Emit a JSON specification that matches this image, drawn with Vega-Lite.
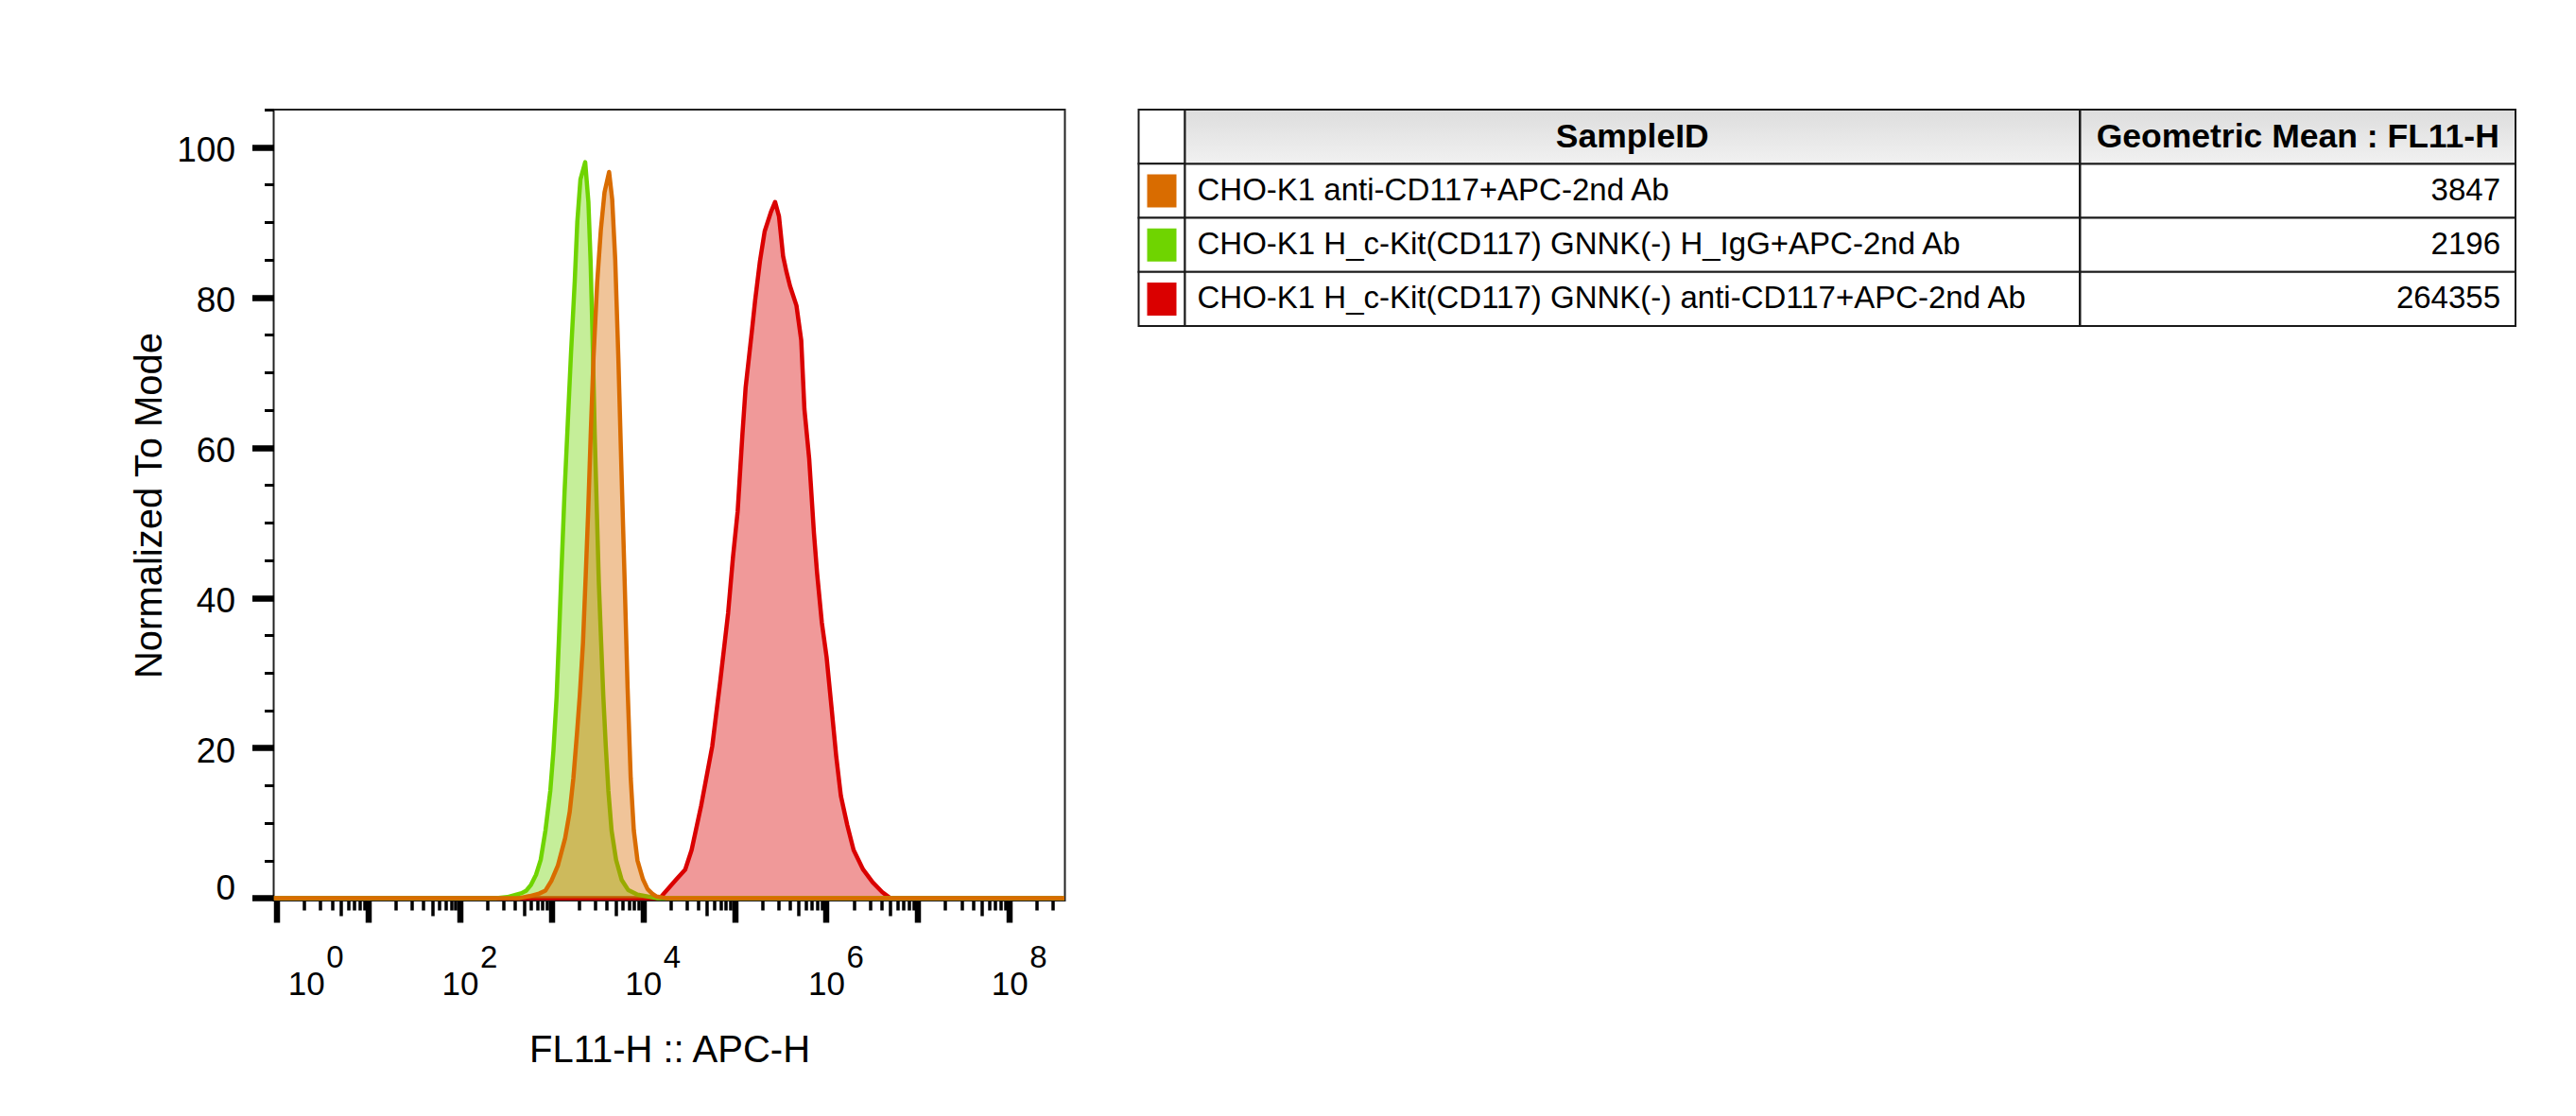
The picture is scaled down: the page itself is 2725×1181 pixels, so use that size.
{
  "$schema": "https://vega.github.io/schema/vega-lite/v6.json",
  "padding": {"left": 137.5, "top": 100, "right": 5, "bottom": 5},
  "background": "white",
  "spacing": 76,
  "config": {
    "font": "Liberation Sans",
    "axis": {"labelColor": "#000", "titleColor": "#000", "tickColor": "#000", "labelFont": "Liberation Sans", "titleFont": "Liberation Sans", "grid": false, "domain": false, "tickCap": "butt"},
    "text": {"font": "Liberation Sans", "color": "#000"}
  },
  "datasets": {
    "hist": [
      {"sample": "CHO-K1 H_c-Kit(CD117) GNNK(-) anti-CD117+APC-2nd Ab", "x": 0.93, "count": 0},
      {"sample": "CHO-K1 H_c-Kit(CD117) GNNK(-) anti-CD117+APC-2nd Ab", "x": 15311, "count": 0},
      {"sample": "CHO-K1 H_c-Kit(CD117) GNNK(-) anti-CD117+APC-2nd Ab", "x": 22803, "count": 2.4},
      {"sample": "CHO-K1 H_c-Kit(CD117) GNNK(-) anti-CD117+APC-2nd Ab", "x": 28907, "count": 3.8},
      {"sample": "CHO-K1 H_c-Kit(CD117) GNNK(-) anti-CD117+APC-2nd Ab", "x": 33963, "count": 6.4},
      {"sample": "CHO-K1 H_c-Kit(CD117) GNNK(-) anti-CD117+APC-2nd Ab", "x": 43152, "count": 12.3},
      {"sample": "CHO-K1 H_c-Kit(CD117) GNNK(-) anti-CD117+APC-2nd Ab", "x": 57016, "count": 20.2},
      {"sample": "CHO-K1 H_c-Kit(CD117) GNNK(-) anti-CD117+APC-2nd Ab", "x": 69663, "count": 28.8},
      {"sample": "CHO-K1 H_c-Kit(CD117) GNNK(-) anti-CD117+APC-2nd Ab", "x": 85114, "count": 38},
      {"sample": "CHO-K1 H_c-Kit(CD117) GNNK(-) anti-CD117+APC-2nd Ab", "x": 95940, "count": 45.3},
      {"sample": "CHO-K1 H_c-Kit(CD117) GNNK(-) anti-CD117+APC-2nd Ab", "x": 108143, "count": 51.5},
      {"sample": "CHO-K1 H_c-Kit(CD117) GNNK(-) anti-CD117+APC-2nd Ab", "x": 121899, "count": 61.8},
      {"sample": "CHO-K1 H_c-Kit(CD117) GNNK(-) anti-CD117+APC-2nd Ab", "x": 132129, "count": 68},
      {"sample": "CHO-K1 H_c-Kit(CD117) GNNK(-) anti-CD117+APC-2nd Ab", "x": 154882, "count": 75.6},
      {"sample": "CHO-K1 H_c-Kit(CD117) GNNK(-) anti-CD117+APC-2nd Ab", "x": 167880, "count": 79.6},
      {"sample": "CHO-K1 H_c-Kit(CD117) GNNK(-) anti-CD117+APC-2nd Ab", "x": 189234, "count": 84.8},
      {"sample": "CHO-K1 H_c-Kit(CD117) GNNK(-) anti-CD117+APC-2nd Ab", "x": 213304, "count": 88.8},
      {"sample": "CHO-K1 H_c-Kit(CD117) GNNK(-) anti-CD117+APC-2nd Ab", "x": 250035, "count": 91.4},
      {"sample": "CHO-K1 H_c-Kit(CD117) GNNK(-) anti-CD117+APC-2nd Ab", "x": 277332, "count": 92.7},
      {"sample": "CHO-K1 H_c-Kit(CD117) GNNK(-) anti-CD117+APC-2nd Ab", "x": 305492, "count": 90.8},
      {"sample": "CHO-K1 H_c-Kit(CD117) GNNK(-) anti-CD117+APC-2nd Ab", "x": 338844, "count": 85.5},
      {"sample": "CHO-K1 H_c-Kit(CD117) GNNK(-) anti-CD117+APC-2nd Ab", "x": 367282, "count": 83.5},
      {"sample": "CHO-K1 H_c-Kit(CD117) GNNK(-) anti-CD117+APC-2nd Ab", "x": 403645, "count": 81.5},
      {"sample": "CHO-K1 H_c-Kit(CD117) GNNK(-) anti-CD117+APC-2nd Ab", "x": 474242, "count": 78.9},
      {"sample": "CHO-K1 H_c-Kit(CD117) GNNK(-) anti-CD117+APC-2nd Ab", "x": 534564, "count": 74.3},
      {"sample": "CHO-K1 H_c-Kit(CD117) GNNK(-) anti-CD117+APC-2nd Ab", "x": 579429, "count": 65.1},
      {"sample": "CHO-K1 H_c-Kit(CD117) GNNK(-) anti-CD117+APC-2nd Ab", "x": 653131, "count": 58.5},
      {"sample": "CHO-K1 H_c-Kit(CD117) GNNK(-) anti-CD117+APC-2nd Ab", "x": 736207, "count": 48.6},
      {"sample": "CHO-K1 H_c-Kit(CD117) GNNK(-) anti-CD117+APC-2nd Ab", "x": 796159, "count": 43.3},
      {"sample": "CHO-K1 H_c-Kit(CD117) GNNK(-) anti-CD117+APC-2nd Ab", "x": 897428, "count": 36.7},
      {"sample": "CHO-K1 H_c-Kit(CD117) GNNK(-) anti-CD117+APC-2nd Ab", "x": 1011579, "count": 32.1},
      {"sample": "CHO-K1 H_c-Kit(CD117) GNNK(-) anti-CD117+APC-2nd Ab", "x": 1142878, "count": 25.5},
      {"sample": "CHO-K1 H_c-Kit(CD117) GNNK(-) anti-CD117+APC-2nd Ab", "x": 1288250, "count": 18.9},
      {"sample": "CHO-K1 H_c-Kit(CD117) GNNK(-) anti-CD117+APC-2nd Ab", "x": 1448772, "count": 13.6},
      {"sample": "CHO-K1 H_c-Kit(CD117) GNNK(-) anti-CD117+APC-2nd Ab", "x": 1702159, "count": 9.7},
      {"sample": "CHO-K1 H_c-Kit(CD117) GNNK(-) anti-CD117+APC-2nd Ab", "x": 1995262, "count": 6.4},
      {"sample": "CHO-K1 H_c-Kit(CD117) GNNK(-) anti-CD117+APC-2nd Ab", "x": 2535129, "count": 3.8},
      {"sample": "CHO-K1 H_c-Kit(CD117) GNNK(-) anti-CD117+APC-2nd Ab", "x": 3221069, "count": 2.1},
      {"sample": "CHO-K1 H_c-Kit(CD117) GNNK(-) anti-CD117+APC-2nd Ab", "x": 4092607, "count": 0.8},
      {"sample": "CHO-K1 H_c-Kit(CD117) GNNK(-) anti-CD117+APC-2nd Ab", "x": 5000345, "count": 0},
      {"sample": "CHO-K1 H_c-Kit(CD117) GNNK(-) anti-CD117+APC-2nd Ab", "x": 400000000, "count": 0},
      {"sample": "CHO-K1 H_c-Kit(CD117) GNNK(-) H_IgG+APC-2nd Ab", "x": 0.93, "count": 0},
      {"sample": "CHO-K1 H_c-Kit(CD117) GNNK(-) H_IgG+APC-2nd Ab", "x": 250, "count": 0},
      {"sample": "CHO-K1 H_c-Kit(CD117) GNNK(-) H_IgG+APC-2nd Ab", "x": 330, "count": 0.13},
      {"sample": "CHO-K1 H_c-Kit(CD117) GNNK(-) H_IgG+APC-2nd Ab", "x": 473, "count": 0.66},
      {"sample": "CHO-K1 H_c-Kit(CD117) GNNK(-) H_IgG+APC-2nd Ab", "x": 533, "count": 1.0},
      {"sample": "CHO-K1 H_c-Kit(CD117) GNNK(-) H_IgG+APC-2nd Ab", "x": 601, "count": 1.8},
      {"sample": "CHO-K1 H_c-Kit(CD117) GNNK(-) H_IgG+APC-2nd Ab", "x": 679, "count": 3.1},
      {"sample": "CHO-K1 H_c-Kit(CD117) GNNK(-) H_IgG+APC-2nd Ab", "x": 764, "count": 5.1},
      {"sample": "CHO-K1 H_c-Kit(CD117) GNNK(-) H_IgG+APC-2nd Ab", "x": 861, "count": 9.0},
      {"sample": "CHO-K1 H_c-Kit(CD117) GNNK(-) H_IgG+APC-2nd Ab", "x": 973, "count": 14.3},
      {"sample": "CHO-K1 H_c-Kit(CD117) GNNK(-) H_IgG+APC-2nd Ab", "x": 1052, "count": 19.6},
      {"sample": "CHO-K1 H_c-Kit(CD117) GNNK(-) H_IgG+APC-2nd Ab", "x": 1140, "count": 26.8},
      {"sample": "CHO-K1 H_c-Kit(CD117) GNNK(-) H_IgG+APC-2nd Ab", "x": 1216, "count": 35.4},
      {"sample": "CHO-K1 H_c-Kit(CD117) GNNK(-) H_IgG+APC-2nd Ab", "x": 1285, "count": 43.3},
      {"sample": "CHO-K1 H_c-Kit(CD117) GNNK(-) H_IgG+APC-2nd Ab", "x": 1390, "count": 53.9},
      {"sample": "CHO-K1 H_c-Kit(CD117) GNNK(-) H_IgG+APC-2nd Ab", "x": 1507, "count": 63.1},
      {"sample": "CHO-K1 H_c-Kit(CD117) GNNK(-) H_IgG+APC-2nd Ab", "x": 1633, "count": 72.3},
      {"sample": "CHO-K1 H_c-Kit(CD117) GNNK(-) H_IgG+APC-2nd Ab", "x": 1799, "count": 82.2},
      {"sample": "CHO-K1 H_c-Kit(CD117) GNNK(-) H_IgG+APC-2nd Ab", "x": 1919, "count": 90.1},
      {"sample": "CHO-K1 H_c-Kit(CD117) GNNK(-) H_IgG+APC-2nd Ab", "x": 2075, "count": 95.7},
      {"sample": "CHO-K1 H_c-Kit(CD117) GNNK(-) H_IgG+APC-2nd Ab", "x": 2339, "count": 98.0},
      {"sample": "CHO-K1 H_c-Kit(CD117) GNNK(-) H_IgG+APC-2nd Ab", "x": 2535, "count": 92.7},
      {"sample": "CHO-K1 H_c-Kit(CD117) GNNK(-) H_IgG+APC-2nd Ab", "x": 2679, "count": 84.8},
      {"sample": "CHO-K1 H_c-Kit(CD117) GNNK(-) H_IgG+APC-2nd Ab", "x": 2812, "count": 75.0},
      {"sample": "CHO-K1 H_c-Kit(CD117) GNNK(-) H_IgG+APC-2nd Ab", "x": 2972, "count": 61.8},
      {"sample": "CHO-K1 H_c-Kit(CD117) GNNK(-) H_IgG+APC-2nd Ab", "x": 3141, "count": 51.2},
      {"sample": "CHO-K1 H_c-Kit(CD117) GNNK(-) H_IgG+APC-2nd Ab", "x": 3296, "count": 42.0},
      {"sample": "CHO-K1 H_c-Kit(CD117) GNNK(-) H_IgG+APC-2nd Ab", "x": 3491, "count": 34.1},
      {"sample": "CHO-K1 H_c-Kit(CD117) GNNK(-) H_IgG+APC-2nd Ab", "x": 3690, "count": 26.8},
      {"sample": "CHO-K1 H_c-Kit(CD117) GNNK(-) H_IgG+APC-2nd Ab", "x": 3926, "count": 20.2},
      {"sample": "CHO-K1 H_c-Kit(CD117) GNNK(-) H_IgG+APC-2nd Ab", "x": 4188, "count": 14.3},
      {"sample": "CHO-K1 H_c-Kit(CD117) GNNK(-) H_IgG+APC-2nd Ab", "x": 4539, "count": 9.0},
      {"sample": "CHO-K1 H_c-Kit(CD117) GNNK(-) H_IgG+APC-2nd Ab", "x": 5082, "count": 5.1},
      {"sample": "CHO-K1 H_c-Kit(CD117) GNNK(-) H_IgG+APC-2nd Ab", "x": 5861, "count": 2.4},
      {"sample": "CHO-K1 H_c-Kit(CD117) GNNK(-) H_IgG+APC-2nd Ab", "x": 6871, "count": 1.1},
      {"sample": "CHO-K1 H_c-Kit(CD117) GNNK(-) H_IgG+APC-2nd Ab", "x": 8730, "count": 0.46},
      {"sample": "CHO-K1 H_c-Kit(CD117) GNNK(-) H_IgG+APC-2nd Ab", "x": 14125, "count": 0},
      {"sample": "CHO-K1 H_c-Kit(CD117) GNNK(-) H_IgG+APC-2nd Ab", "x": 400000000, "count": 0},
      {"sample": "CHO-K1 anti-CD117+APC-2nd Ab", "x": 0.93, "count": 0},
      {"sample": "CHO-K1 anti-CD117+APC-2nd Ab", "x": 450, "count": 0},
      {"sample": "CHO-K1 anti-CD117+APC-2nd Ab", "x": 578, "count": 0.26},
      {"sample": "CHO-K1 anti-CD117+APC-2nd Ab", "x": 735, "count": 0.6},
      {"sample": "CHO-K1 anti-CD117+APC-2nd Ab", "x": 861, "count": 1.0},
      {"sample": "CHO-K1 anti-CD117+APC-2nd Ab", "x": 1000, "count": 2.3},
      {"sample": "CHO-K1 anti-CD117+APC-2nd Ab", "x": 1175, "count": 4.3},
      {"sample": "CHO-K1 anti-CD117+APC-2nd Ab", "x": 1413, "count": 8},
      {"sample": "CHO-K1 anti-CD117+APC-2nd Ab", "x": 1585, "count": 11.5},
      {"sample": "CHO-K1 anti-CD117+APC-2nd Ab", "x": 1738, "count": 16},
      {"sample": "CHO-K1 anti-CD117+APC-2nd Ab", "x": 1905, "count": 22},
      {"sample": "CHO-K1 anti-CD117+APC-2nd Ab", "x": 2042, "count": 27},
      {"sample": "CHO-K1 anti-CD117+APC-2nd Ab", "x": 2213, "count": 34},
      {"sample": "CHO-K1 anti-CD117+APC-2nd Ab", "x": 2371, "count": 43},
      {"sample": "CHO-K1 anti-CD117+APC-2nd Ab", "x": 2512, "count": 51},
      {"sample": "CHO-K1 anti-CD117+APC-2nd Ab", "x": 2692, "count": 62},
      {"sample": "CHO-K1 anti-CD117+APC-2nd Ab", "x": 2884, "count": 72},
      {"sample": "CHO-K1 anti-CD117+APC-2nd Ab", "x": 3162, "count": 82},
      {"sample": "CHO-K1 anti-CD117+APC-2nd Ab", "x": 3467, "count": 89},
      {"sample": "CHO-K1 anti-CD117+APC-2nd Ab", "x": 3802, "count": 94},
      {"sample": "CHO-K1 anti-CD117+APC-2nd Ab", "x": 4266, "count": 96.7},
      {"sample": "CHO-K1 anti-CD117+APC-2nd Ab", "x": 4613, "count": 93},
      {"sample": "CHO-K1 anti-CD117+APC-2nd Ab", "x": 4977, "count": 85},
      {"sample": "CHO-K1 anti-CD117+APC-2nd Ab", "x": 5383, "count": 72},
      {"sample": "CHO-K1 anti-CD117+APC-2nd Ab", "x": 5821, "count": 57},
      {"sample": "CHO-K1 anti-CD117+APC-2nd Ab", "x": 6281, "count": 43},
      {"sample": "CHO-K1 anti-CD117+APC-2nd Ab", "x": 6792, "count": 28},
      {"sample": "CHO-K1 anti-CD117+APC-2nd Ab", "x": 7345, "count": 16},
      {"sample": "CHO-K1 anti-CD117+APC-2nd Ab", "x": 7943, "count": 9},
      {"sample": "CHO-K1 anti-CD117+APC-2nd Ab", "x": 8710, "count": 5},
      {"sample": "CHO-K1 anti-CD117+APC-2nd Ab", "x": 10000, "count": 2.5},
      {"sample": "CHO-K1 anti-CD117+APC-2nd Ab", "x": 11220, "count": 1.2},
      {"sample": "CHO-K1 anti-CD117+APC-2nd Ab", "x": 12589, "count": 0.6},
      {"sample": "CHO-K1 anti-CD117+APC-2nd Ab", "x": 14125, "count": 0.2},
      {"sample": "CHO-K1 anti-CD117+APC-2nd Ab", "x": 17783, "count": 0},
      {"sample": "CHO-K1 anti-CD117+APC-2nd Ab", "x": 400000000, "count": 0}
    ],
    "table": [
      {"label": "SampleID", "value": "Geometric Mean : FL11-H", "part": "header"},
      {"label": "CHO-K1 anti-CD117+APC-2nd Ab", "value": "3847", "part": "body"},
      {"label": "CHO-K1 H_c-Kit(CD117) GNNK(-) H_IgG+APC-2nd Ab", "value": "2196", "part": "body"},
      {"label": "CHO-K1 H_c-Kit(CD117) GNNK(-) anti-CD117+APC-2nd Ab", "value": "264355", "part": "body"}
    ]
  },
  "hconcat": [
    {
      "width": 837,
      "height": 837,
      "view": {"stroke": "#222", "strokeWidth": 2},
      "data": {"name": "hist"},
      "resolve": {"axis": {"x": "independent"}},
      "encoding": {
        "y": {
          "field": "count", "type": "quantitative", "stack": null,
          "scale": {"domain": [-0.33, 105], "nice": false, "zero": false},
          "axis": {
            "title": "Normalized To Mode", "titleFontSize": 40, "titleFontWeight": "normal", "titlePadding": 8,
            "values": [0,5,10,15,20,25,30,35,40,45,50,55,60,65,70,75,80,85,90,95,100,105],
            "tickSize": {"condition": {"test": "datum.value % 20 == 0", "value": 23}, "value": 10},
            "tickWidth": {"condition": {"test": "datum.value % 20 == 0", "value": 6.5}, "value": 3},
            "labelExpr": "datum.value % 20 == 0 ? datum.label : ''",
            "labelFontSize": 37, "labelBaseline": "middle",
            "labelOffset": {"condition": {"test": "datum.value == 0", "value": -10}, "value": 4},
            "labelPadding": 18,
            "labelOverlap": false, "labelFlush": false, "labelBound": false
          }
        },
        "color": {
          "field": "sample", "type": "nominal",
          "scale": {"domain": ["CHO-K1 anti-CD117+APC-2nd Ab", "CHO-K1 H_c-Kit(CD117) GNNK(-) H_IgG+APC-2nd Ab", "CHO-K1 H_c-Kit(CD117) GNNK(-) anti-CD117+APC-2nd Ab"], "range": ["#d96c00", "#6fd400", "#da0000"]},
          "legend": null
        }
      },
      "layer": [
        {"transform": [{"filter": {"field": "sample", "equal": "CHO-K1 H_c-Kit(CD117) GNNK(-) anti-CD117+APC-2nd Ab"}}],
         "mark": {"type": "area", "orient": "vertical", "fillOpacity": 0.4, "clip": true, "line": {"strokeWidth": 4.5, "strokeJoin": "round"}},
         "encoding": {
           "x": {
             "field": "x", "type": "quantitative",
             "scale": {"type": "log", "domain": [0.927, 405000000], "nice": false},
             "axis": {
               "orient": "bottom",
               "title": "FL11-H :: APC-H", "titleFontSize": 40, "titleFontWeight": "normal", "titlePadding": 31.5,
               "values": [1,2,3,4,5,6,7,8,9,10,20,30,40,50,60,70,80,90,100,200,300,400,500,600,700,800,900,1000,2000,3000,4000,5000,6000,7000,8000,9000,10000,20000,30000,40000,50000,60000,70000,80000,90000,100000,200000,300000,400000,500000,600000,700000,800000,900000,1000000,2000000,3000000,4000000,5000000,6000000,7000000,8000000,9000000,10000000,20000000,30000000,40000000,50000000,60000000,70000000,80000000,90000000,100000000,200000000,300000000],
               "tickSize": {"condition": [{"test": "abs(log(datum.value)/LN10 - round(log(datum.value)/LN10)) < 0.0001", "value": 23}, {"test": "abs(log(datum.value/5)/LN10 - round(log(datum.value/5)/LN10)) < 0.0001", "value": 16}], "value": 10},
               "tickWidth": {"condition": {"test": "abs(log(datum.value)/LN10 - round(log(datum.value)/LN10)) < 0.0001", "value": 6.5}, "value": 3.5},
               "labelExpr": "(datum.value == 1 || datum.value == 100 || datum.value == 10000 || datum.value == 1000000 || datum.value == 100000000) ? '10' : ''",
               "labelAlign": "center", "labelBaseline": "top", "labelFontSize": 35,
               "labelOffset": {"condition": {"test": "datum.value == 1", "value": 31}, "value": 0},
               "labelPadding": 48.6,
               "labelOverlap": false, "labelFlush": false, "labelBound": false
             }
           }
         }},
        {"transform": [{"filter": {"field": "sample", "equal": "CHO-K1 H_c-Kit(CD117) GNNK(-) H_IgG+APC-2nd Ab"}}],
         "mark": {"type": "area", "orient": "vertical", "fillOpacity": 0.4, "clip": true, "line": {"strokeWidth": 4.5, "strokeJoin": "round"}},
         "encoding": {
           "x": {
             "field": "x", "type": "quantitative",
             "scale": {"type": "log", "domain": [0.927, 405000000], "nice": false},
             "axis": {
               "orient": "bottom", "title": null, "ticks": false, "tickSize": 0,
               "values": [1, 100, 10000, 1000000, 100000000],
               "labelExpr": "datum.value == 1 ? '0' : datum.value == 100 ? '2' : datum.value == 10000 ? '4' : datum.value == 1000000 ? '6' : '8'",
               "labelAlign": "left", "labelBaseline": "top", "labelFontSize": 33,
               "labelOffset": {"condition": {"test": "datum.value == 1", "value": 52}, "value": 21},
               "labelPadding": 44.5,
               "labelOverlap": false, "labelFlush": false, "labelBound": false
             }
           }
         }},
        {"transform": [{"filter": {"field": "sample", "equal": "CHO-K1 anti-CD117+APC-2nd Ab"}}],
         "mark": {"type": "area", "orient": "vertical", "fillOpacity": 0.4, "clip": true, "line": {"strokeWidth": 4.5, "strokeJoin": "round"}},
         "encoding": {
           "x": {
             "field": "x", "type": "quantitative",
             "scale": {"type": "log", "domain": [0.927, 405000000], "nice": false},
             "axis": null
           }
         }}
      ]
    },
    {
      "hconcat": [
        {
          "width": 49, "height": 229,
          "view": {"stroke": null},
          "data": {"name": "table"},
          "encoding": {
            "y": {"field": "label", "type": "nominal", "scale": {"type": "band", "domain": ["SampleID", "CHO-K1 anti-CD117+APC-2nd Ab", "CHO-K1 H_c-Kit(CD117) GNNK(-) H_IgG+APC-2nd Ab", "CHO-K1 H_c-Kit(CD117) GNNK(-) anti-CD117+APC-2nd Ab"], "paddingInner": 0, "paddingOuter": 0}, "axis": null}
          },
          "layer": [
            {"mark": {"type": "rect", "fill": "white", "stroke": "#1a1a1a", "strokeWidth": 2}},
            {"transform": [{"filter": "datum.part == 'body'"}],
             "mark": {"type": "point", "shape": "M-0.886,-1H0.886V1H-0.886Z", "size": 1225, "filled": true, "opacity": 1, "strokeWidth": 0},
             "encoding": {"color": {"field": "label", "type": "nominal", "scale": {"domain": ["CHO-K1 anti-CD117+APC-2nd Ab", "CHO-K1 H_c-Kit(CD117) GNNK(-) H_IgG+APC-2nd Ab", "CHO-K1 H_c-Kit(CD117) GNNK(-) anti-CD117+APC-2nd Ab"], "range": ["#d96c00", "#6fd400", "#da0000"]}, "legend": null}}}
          ]
        },
        {
          "width": 946.5, "height": 229,
          "view": {"stroke": null},
          "data": {"name": "table"},
          "encoding": {
            "y": {"field": "label", "type": "nominal", "scale": {"type": "band", "domain": ["SampleID", "CHO-K1 anti-CD117+APC-2nd Ab", "CHO-K1 H_c-Kit(CD117) GNNK(-) H_IgG+APC-2nd Ab", "CHO-K1 H_c-Kit(CD117) GNNK(-) anti-CD117+APC-2nd Ab"], "paddingInner": 0, "paddingOuter": 0}, "axis": null},
            "text": {"field": "label", "type": "nominal"}
          },
          "layer": [
            {"transform": [{"filter": "datum.part == 'body'"}], "mark": {"type": "rect", "fill": "white", "stroke": "#1a1a1a", "strokeWidth": 2}},
            {"transform": [{"filter": "datum.part == 'header'"}], "mark": {"type": "rect", "fill": {"gradient": "linear", "x1": 0, "y1": 0, "x2": 0, "y2": 1, "stops": [{"offset": 0, "color": "#dddddd"}, {"offset": 1, "color": "#f1f1f1"}]}, "stroke": "#1a1a1a", "strokeWidth": 2}},
            {"transform": [{"filter": "datum.part == 'header'"}], "mark": {"type": "text", "fontWeight": "bold", "fontSize": 35.5, "baseline": "middle", "align": "center"}},
            {"transform": [{"filter": "datum.part == 'body'"}], "mark": {"type": "text", "fontSize": 33, "baseline": "middle", "align": "left", "dx": -460.25}}
          ]
        },
        {
          "width": 460.5, "height": 229,
          "view": {"stroke": null},
          "data": {"name": "table"},
          "encoding": {
            "y": {"field": "label", "type": "nominal", "scale": {"type": "band", "domain": ["SampleID", "CHO-K1 anti-CD117+APC-2nd Ab", "CHO-K1 H_c-Kit(CD117) GNNK(-) H_IgG+APC-2nd Ab", "CHO-K1 H_c-Kit(CD117) GNNK(-) anti-CD117+APC-2nd Ab"], "paddingInner": 0, "paddingOuter": 0}, "axis": null},
            "text": {"field": "value", "type": "nominal"}
          },
          "layer": [
            {"transform": [{"filter": "datum.part == 'body'"}], "mark": {"type": "rect", "fill": "white", "stroke": "#1a1a1a", "strokeWidth": 2}},
            {"transform": [{"filter": "datum.part == 'header'"}], "mark": {"type": "rect", "fill": {"gradient": "linear", "x1": 0, "y1": 0, "x2": 0, "y2": 1, "stops": [{"offset": 0, "color": "#dddddd"}, {"offset": 1, "color": "#f1f1f1"}]}, "stroke": "#1a1a1a", "strokeWidth": 2}},
            {"transform": [{"filter": "datum.part == 'header'"}], "mark": {"type": "text", "fontWeight": "bold", "fontSize": 35.5, "baseline": "middle", "align": "center"}},
            {"transform": [{"filter": "datum.part == 'body'"}], "mark": {"type": "text", "fontSize": 33, "baseline": "middle", "align": "right", "dx": 214.25}}
          ]
        }
      ],
      "spacing": 0,
      "bounds": "flush"
    }
  ]
}
